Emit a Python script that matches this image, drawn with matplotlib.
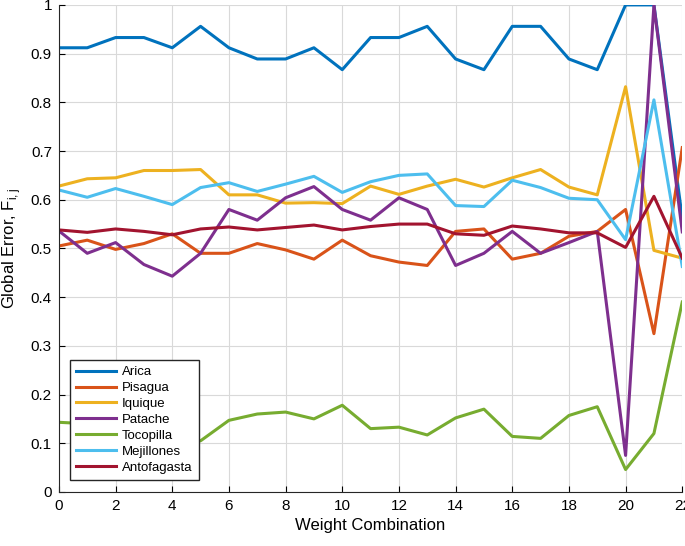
import matplotlib
matplotlib.use("Agg")
import matplotlib.pyplot as plt

plt.rcParams['font.family'] = ['Liberation Sans', 'DejaVu Sans']

x = list(range(23))
arica = [0.912, 0.912, 0.933, 0.933, 0.912, 0.956, 0.912, 0.889, 0.889, 0.912, 0.867, 0.933,
         0.933, 0.956, 0.889, 0.867, 0.956, 0.956, 0.889, 0.867, 1.0, 1.0, 0.562]
pisagua = [0.505, 0.517, 0.498, 0.51, 0.53, 0.49, 0.49, 0.51, 0.497, 0.478, 0.517, 0.485,
           0.472, 0.465, 0.535, 0.54, 0.478, 0.49, 0.525, 0.535, 0.58, 0.325, 0.707]
iquique = [0.628, 0.643, 0.645, 0.66, 0.66, 0.662, 0.61, 0.61, 0.593, 0.594, 0.592, 0.628,
           0.611, 0.628, 0.642, 0.626, 0.645, 0.662, 0.626, 0.61, 0.832, 0.496, 0.48]
patache = [0.536, 0.49, 0.512, 0.467, 0.443, 0.49, 0.58, 0.558, 0.604, 0.627, 0.58, 0.558,
           0.604, 0.58, 0.465, 0.49, 0.535, 0.49, 0.512, 0.535, 0.075, 1.0, 0.534]
tocopilla = [0.143, 0.14, 0.13, 0.12, 0.105, 0.105, 0.147, 0.16, 0.164, 0.15, 0.178, 0.13,
             0.133, 0.117, 0.152, 0.17, 0.114, 0.11, 0.157, 0.175, 0.046, 0.12, 0.39]
mejillones = [0.62, 0.605, 0.623, 0.607, 0.59, 0.625, 0.635, 0.617, 0.632, 0.648, 0.615, 0.637,
              0.65, 0.653, 0.588, 0.586, 0.64, 0.625, 0.603, 0.6, 0.518, 0.805, 0.463]
antofagasta = [0.538, 0.533, 0.54, 0.535, 0.528, 0.54, 0.544, 0.538, 0.543, 0.548, 0.538, 0.545,
               0.55, 0.55, 0.53, 0.527, 0.546, 0.54, 0.532, 0.532, 0.502, 0.607, 0.48]

names = ['Arica', 'Pisagua', 'Iquique', 'Patache', 'Tocopilla', 'Mejillones', 'Antofagasta']
series = [arica, pisagua, iquique, patache, tocopilla, mejillones, antofagasta]
colors = ['#0072BD', '#D95319', '#EDB120', '#7E2F8E', '#77AC30', '#4DBEEE', '#A2142F']

fig = plt.figure(figsize=(6.85, 5.46), dpi=100)
ax = fig.add_axes([0.086, 0.099, 0.91, 0.892])
for n, s, c in zip(names, series, colors):
    ax.plot(x, s, color=c, lw=2.2, label=n)

ax.set_xlim(0, 22)
ax.set_ylim(0, 1)
ax.set_xticks(range(0, 23, 2))
ax.set_yticks([i / 10 for i in range(11)])
ax.set_yticklabels(['0', '0.1', '0.2', '0.3', '0.4', '0.5', '0.6', '0.7', '0.8', '0.9', '1'])
ax.grid(True, color='#d9d9d9', lw=0.8)
ax.set_axisbelow(True)
ax.tick_params(direction='in', labelsize=11, length=4)
ax.tick_params(axis='x', pad=5)
ax.tick_params(axis='y', pad=5)
for sp in ['top', 'right']:
    ax.spines[sp].set_visible(False)
for sp in ['left', 'bottom']:
    ax.spines[sp].set_color('#262626')
ax.set_xlabel('Weight Combination', fontsize=12, labelpad=4)
ax.set_ylabel('Global Error, F$_{\\mathregular{i,j}}$', fontsize=12, labelpad=6)
leg = ax.legend(loc='lower left', bbox_to_anchor=(0.018, 0.025), borderaxespad=0,
                fontsize=9.5, fancybox=False, framealpha=1, edgecolor='#262626',
                handlelength=3.0, borderpad=0.45, labelspacing=0.28, handletextpad=0.5)
leg.get_frame().set_linewidth(1)
fig.savefig('out.png', dpi=100)
